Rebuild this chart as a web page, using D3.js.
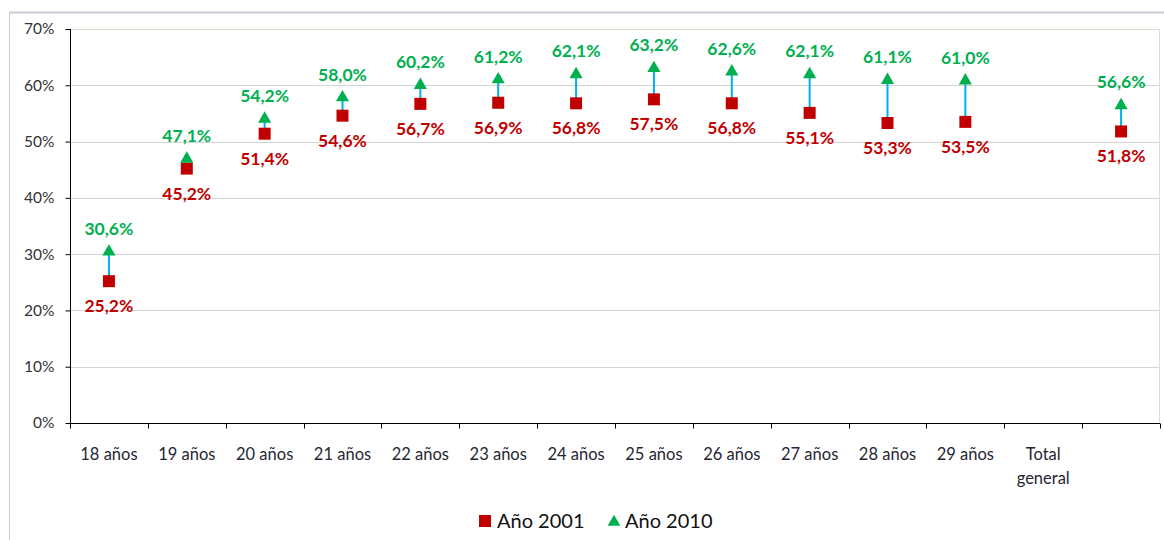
<!DOCTYPE html>
<html>
<head>
<meta charset="utf-8">
<script src="https://cdn.jsdelivr.net/npm/d3@7"></script>
<style>
  body { margin: 0; background: #fff; }
  svg { font-family: Lato, "Open Sans", sans-serif; }
</style>
</head>
<body>
<svg id="chart" width="1164" height="540"></svg>
<script>
// categories (last slot has no label; Total general label sits one band earlier, as in the original)
const categories = ["18 años", "19 años", "20 años", "21 años", "22 años", "23 años", "24 años",
  "25 años", "26 años", "27 años", "28 años", "29 años", "Total general", ""];
const values2001 = [25.2, 45.2, 51.4, 54.6, 56.7, 56.9, 56.8, 57.5, 56.8, 55.1, 53.3, 53.5, null, 51.8];
const values2010 = [30.6, 47.1, 54.2, 58.0, 60.2, 61.2, 62.1, 63.2, 62.6, 62.1, 61.1, 61.0, null, 56.6];
const yTicks = [0, 10, 20, 30, 40, 50, 60, 70];
const seriesNames = ["Año 2001", "Año 2010"];

let svg = d3.select("#chart");
let margin = { top: 29, right: 4, bottom: 117, left: 70 };
const width = +svg.attr("width") - margin.left - margin.right;
const height = +svg.attr("height") - margin.top - margin.bottom;

const red = "#c00000";
const green = "#00b050";
const blue = "#00b0f0";

// outer frame (spreadsheet-like)
svg.append("line").attr("x1", 9).attr("x2", 1164).attr("y1", 12.5).attr("y2", 12.5)
  .attr("stroke", "#c8ccd2").attr("stroke-width", 2);
svg.append("line").attr("x1", 9.5).attr("x2", 9.5).attr("y1", 12).attr("y2", 540)
  .attr("stroke", "#c8ccd2");

const g = svg.append("g").attr("transform", "translate(" + margin.left + "," + margin.top + ")");

const x = d3.scaleBand().domain(d3.range(categories.length)).range([0, width]);
const y = d3.scaleLinear().domain([0, 70]).range([height, 0]);

// gridlines
g.selectAll(".grid").data(yTicks.filter(t => t > 0 && t < 70)).enter()
  .append("line")
  .attr("x1", 0).attr("x2", width)
  .attr("y1", d => Math.round(y(d)) + 0.5).attr("y2", d => Math.round(y(d)) + 0.5)
  .attr("stroke", "#d4d4d4");

// plot area border top/right
g.append("path")
  .attr("d", "M0," + (y(70) + 0.5) + "H" + (width - 0.5) + "V" + height)
  .attr("fill", "none").attr("stroke", "#e2dbca");

// y axis
const yAxis = g.append("g").attr("transform", "translate(0.5,0)")
  .call(d3.axisLeft(y).tickValues(yTicks).tickSize(5).tickFormat(d => d + "%"));
yAxis.select(".domain").attr("stroke", "#000").attr("d", "M0," + y(70) + "V" + height);
yAxis.selectAll(".tick line").attr("stroke", "#000");
yAxis.selectAll(".tick text").attr("x", -16).attr("font-size", 15.5).attr("fill", "#333")
  .attr("font-family", "Lato, sans-serif");

// x axis with ticks on band boundaries
const xg = g.append("g").attr("transform", "translate(0," + (height + 0.5) + ")");
xg.append("line").attr("x1", 0).attr("x2", width).attr("stroke", "#000");
xg.selectAll(".xt").data(d3.range(categories.length + 1)).enter()
  .append("line")
  .attr("x1", i => Math.round(i * x.step()) + 0.5).attr("x2", i => Math.round(i * x.step()) + 0.5)
  .attr("y1", 0).attr("y2", 5).attr("stroke", "#000");
xg.selectAll(".xl").data(categories).enter()
  .append("text")
  .attr("text-anchor", "middle")
  .attr("font-size", 16.5)
  .attr("fill", "#262633")
  .attr("transform", (d, i) => "translate(" + (x(i) + x.bandwidth() / 2) + ",36)")
  .each(function(d) {
    const words = d === "Total general" ? ["Total", "general"] : [d];
    d3.select(this).selectAll("tspan").data(words).enter()
      .append("tspan").attr("x", 0).attr("dy", (w, j) => j === 0 ? 0 : 24).text(w => w);
  });

const pts = categories.map((c, i) => ({ i, a: values2001[i], b: values2010[i] }))
  .filter(d => d.a != null);
const cx = i => x(i) + x.bandwidth() / 2;
const fmt = v => v.toFixed(1).replace(".", ",") + "%";

// connecting lines
g.selectAll(".link").data(pts).enter()
  .append("line")
  .attr("x1", d => cx(d.i)).attr("x2", d => cx(d.i))
  .attr("y1", d => y(d.a)).attr("y2", d => y(d.b))
  .attr("stroke", blue).attr("stroke-width", 2);

// 2001 squares
g.selectAll(".sq").data(pts).enter()
  .append("rect")
  .attr("x", d => cx(d.i) - 6).attr("y", d => y(d.a) - 6)
  .attr("width", 12).attr("height", 12).attr("fill", red);

// 2010 triangles
const tri = d3.symbol().type(d3.symbolTriangle).size(75);
g.selectAll(".tri").data(pts).enter()
  .append("path")
  .attr("d", tri)
  .attr("transform", d => "translate(" + cx(d.i) + "," + (y(d.b) + 1) + ")")
  .attr("fill", green);

// labels
g.selectAll(".la").data(pts).enter()
  .append("text")
  .attr("x", d => cx(d.i)).attr("y", d => y(d.a) + 31)
  .attr("text-anchor", "middle").attr("font-size", 17.5).attr("font-weight", "bold")
  .attr("fill", red).text(d => fmt(d.a));
g.selectAll(".lb").data(pts).enter()
  .append("text")
  .attr("x", d => cx(d.i)).attr("y", d => y(d.b) - 16)
  .attr("text-anchor", "middle").attr("font-size", 17.5).attr("font-weight", "bold")
  .attr("fill", green).text(d => fmt(d.b));

// legend
const legend = svg.append("g").attr("transform", "translate(479,521)");
legend.append("rect").attr("x", 0).attr("y", -6).attr("width", 12).attr("height", 12).attr("fill", red);
legend.append("text").attr("x", 18).attr("y", 7).attr("font-size", 20).attr("fill", "#111").text(seriesNames[0]);
legend.append("path").attr("d", d3.symbol().type(d3.symbolTriangle).size(70))
  .attr("transform", "translate(135,1)").attr("fill", green);
legend.append("text").attr("x", 146).attr("y", 7).attr("font-size", 20).attr("fill", "#111").text(seriesNames[1]);
</script>
</body>
</html>
